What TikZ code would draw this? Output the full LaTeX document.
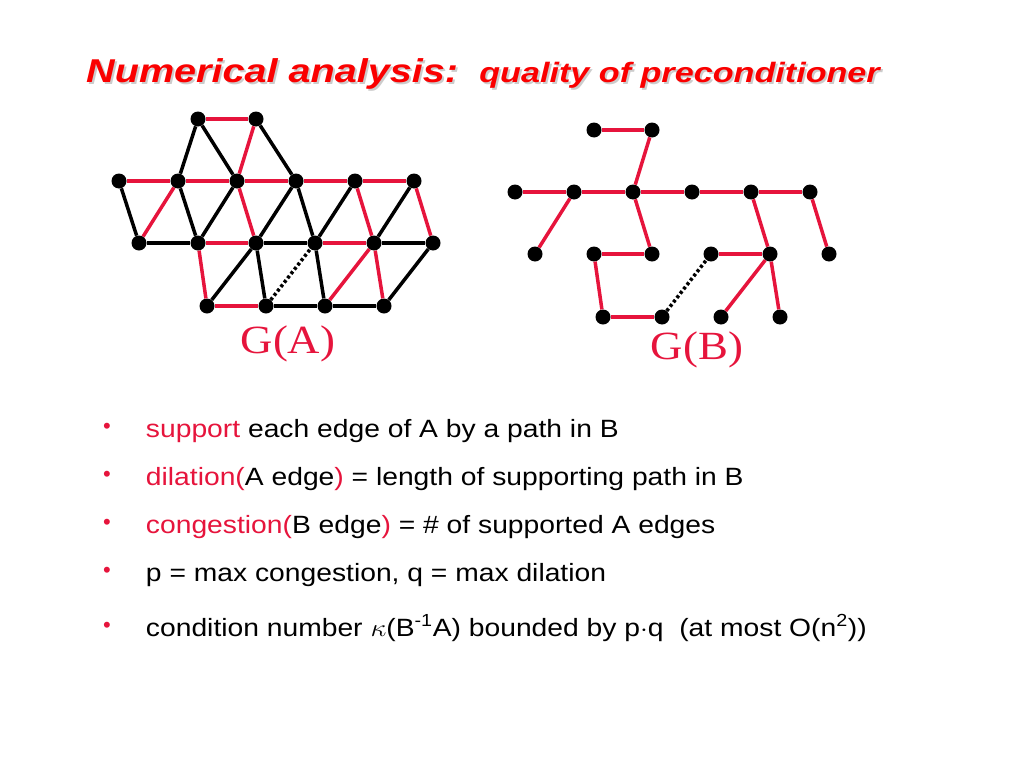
\documentclass[tikz,border=0pt]{standalone}
\usepackage{fontspec}
\setmainfont{Liberation Sans}
\newfontfamily\serifont{Liberation Serif}
\usepackage{tikz}
\usetikzlibrary{calc}
\definecolor{pred}{RGB}{230,20,60}
\definecolor{tred}{RGB}{250,0,0}
\begin{document}
\begin{tikzpicture}[x=1pt,y=-1pt,
  dot/.style={circle,fill=black,inner sep=0pt,minimum size=15pt},
  redge/.style={pred,line width=3.5pt},
  bedge/.style={black,line width=3.5pt},
  dedge/.style={black,line width=3.5pt,dash pattern=on 3pt off 2.5pt},
  bullet/.style={anchor=base west,xscale=1.13,font=\fontsize{25}{29}\selectfont},
  glabel/.style={text=pred,xscale=1.12,font=\serifont\fontsize{40}{44}\selectfont}]

\useasboundingbox (0,0) rectangle (1024,768);

% title
\node[anchor=base west,xscale=1.2,font=\bfseries\itshape\fontsize{33}{38}\selectfont,text=gray!40] at (84,84) {Numerical analysis:};
\node[anchor=base west,xscale=1.2,font=\bfseries\itshape\fontsize{33}{38}\selectfont,text=tred] (title) at (82,82) {Numerical analysis:};
\node[anchor=base west,xscale=1.22,font=\bfseries\itshape\fontsize{28}{32}\selectfont,text=gray!40] at (477,84) {quality of preconditioner};
\node[anchor=base west,xscale=1.22,font=\bfseries\itshape\fontsize{28}{32}\selectfont,text=tred] (subtitle) at (475,82) {quality of preconditioner};

% G(A) vertices
\node[dot] (t1) at (198,119) {};
\node[dot] (t2) at (256,119) {};
\foreach \x [count=\i] in {119,178,237,296,355,414} \node[dot] (a\i) at (\x,181) {};
\foreach \x [count=\i] in {139,198,256,315,374,433} \node[dot] (b\i) at (\x,243) {};
\foreach \x [count=\i] in {207,266,325,384} \node[dot] (c\i) at (\x,306) {};

\foreach \u/\v in {t1/t2,t2/a3,a1/a2,a2/a3,a3/a4,a4/a5,a5/a6,b1/a2,a3/b3,a5/b5,a6/b6,
  b2/b3,b4/b5,b2/c1,c3/b5,b5/c4,c1/c2}
  \draw[redge] (\u) -- (\v);
\foreach \u/\v in {t1/a2,t1/a3,t2/a4,a1/b1,a2/b2,b2/a3,b3/a4,a4/b4,b4/a5,b5/a6,
  b1/b2,b3/b4,b5/b6,c1/b3,b3/c2,b4/c3,c4/b6,c2/c3,c3/c4}
  \draw[bedge] (\u) -- (\v);
\draw[dedge] (c2) -- (b4);

\node[glabel] (ga) at (288,344) {G(A)};

% G(B) vertices
\node[dot] (p1) at (594,130) {};
\node[dot] (p2) at (652,130) {};
\foreach \x [count=\i] in {515,574,633,692,751,810} \node[dot] (r\i) at (\x,192) {};
\foreach \x [count=\i] in {535,594,652,711,770,829} \node[dot] (s\i) at (\x,254) {};
\foreach \x [count=\i] in {603,662,721,780} \node[dot] (u\i) at (\x,317) {};

\foreach \u/\v in {p1/p2,p2/r3,r1/r2,r2/r3,r3/r4,r4/r5,r5/r6,r2/s1,r3/s3,s2/s3,s2/u1,
  u1/u2,s4/s5,r5/s5,s5/u3,s5/u4,r6/s6}
  \draw[redge] (\u) -- (\v);
\draw[dedge] (u2) -- (s4);

\node[glabel] (gb) at (697,350) {G(B)};

% bullets
\foreach \y in {428,476,524,572,627}
  \node[text=pred,font=\fontsize{22}{24}\selectfont] at (107,\y) {•};
\node[bullet] (l1) at (142,437) {\textcolor{pred}{support} each edge of A by a path in B};
\node[bullet] (l2) at (142,485) {\textcolor{pred}{dilation(}A edge\textcolor{pred}{)} = length of supporting path in B};
\node[bullet] (l3) at (142,533) {\textcolor{pred}{congestion(}B edge\textcolor{pred}{)} = \# of supported A edges};
\node[bullet] (l4) at (142,581) {p = max congestion, q = max dilation};
\node[bullet] (l5) at (142,636) {condition number $\kappa$(B\textsuperscript{-1}A) bounded by p$\cdot$q\ \ (at most O(n\textsuperscript{2}))};
\end{tikzpicture}
\end{document}
